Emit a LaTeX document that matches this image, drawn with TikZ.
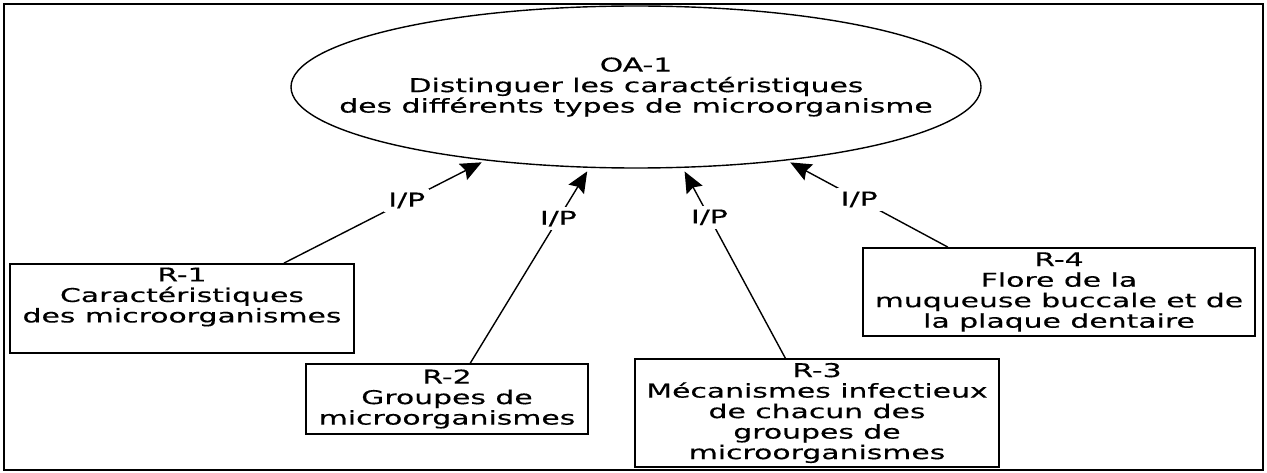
\documentclass[tikz,border=0pt]{standalone}
\usepackage{fontspec}
\setmainfont{DejaVu Sans}[FakeStretch=1.57, FakeBold=0.4]
\usepackage{tikz}
\usetikzlibrary{shapes.geometric, arrows.meta}

\begin{document}
\begin{tikzpicture}[x=1pt, y=-1pt,
    font=\fontsize{19}{20.5}\selectfont,
    ressource/.style={draw, rectangle, line width=1.8pt, inner sep=0pt, align=center},
    lien/.style={-{Stealth[length=21pt, width=18pt, inset=3pt]}, line width=1.4pt, shorten >=4pt},
    etiquette/.style={fill=white, inner sep=4pt}]

    % =================================================================
    % 1. CADRE
    % =================================================================
    \useasboundingbox (0,0) rectangle (1267,473);
    \draw[line width=2.2pt] (4,4) rectangle (1263,470);

    % =================================================================
    % 2. OBJECTIF (ELLIPSE)
    % =================================================================
    \node[draw, ellipse, line width=1.4pt, inner sep=0pt,
          minimum width=690pt, minimum height=162pt,
          label={[align=center]center:OA-1\\Distinguer les caractéristiques\\des différents types de microorganisme}]
          (OA) at (636,87) {};

    % =================================================================
    % 3. RESSOURCES
    % =================================================================
    \node[ressource, minimum width=344pt, minimum height=89pt,
          label={[align=center, yshift=11.5pt]center:R-1\\Caractéristiques\\des microorganismes}]
          (R1) at (182,308.5) {};
    \node[ressource, minimum width=282pt, minimum height=70pt] (R2) at (447,399)
        {R-2\\Groupes de\\microorganismes};
    \node[ressource, minimum width=364pt, minimum height=108pt] (R3) at (817,413)
        {R-3\\Mécanismes infectieux\\de chacun des\\groupes de\\microorganismes};
    \node[ressource, minimum width=392pt, minimum height=88pt] (R4) at (1059,292)
        {R-4\\Flore de la\\muqueuse buccale et de\\la plaque dentaire};

    % =================================================================
    % 4. LIENS I/P
    % =================================================================
    \draw[lien] (R1.24) -- node[etiquette, pos=0.61] (ip1) {I/P} (OA.206);
    \draw[lien] (R2.57) -- node[etiquette, pos=0.74] (ip2) {I/P} (OA.240);
    \draw[lien] (R3.120) -- node[etiquette, pos=0.74] (ip3) {I/P} (OA.300);
    \draw[lien] (R4.158) -- node[etiquette, pos=0.55] (ip4) {I/P} (OA.334);

\end{tikzpicture}
\end{document}
